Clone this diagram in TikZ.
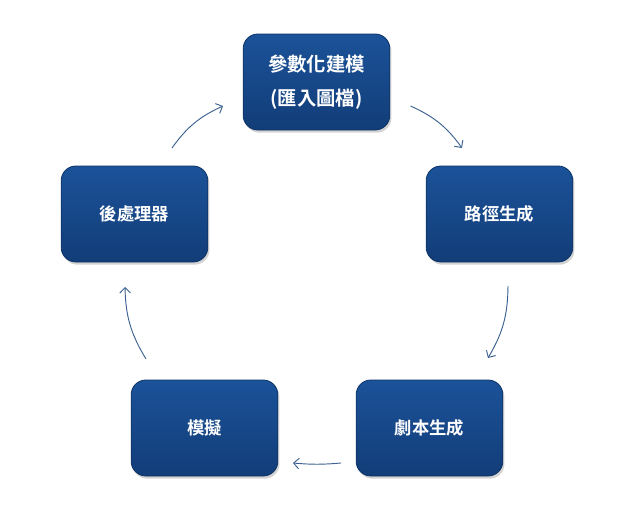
\documentclass[tikz,border=0pt]{standalone}
\usepackage{fontspec}
\newfontfamily\cjk[BoldFont=* Bold]{Noto Sans CJK TC}
\usetikzlibrary{arrows.meta,shadows}
\definecolor{boxtop}{HTML}{1B5299}
\definecolor{boxbot}{HTML}{123D78}
\definecolor{boxline}{HTML}{0E3366}
\definecolor{arrowblue}{HTML}{3B6190}
\tikzset{
  stagebox/.style={rounded corners=11pt, minimum width=110pt, minimum height=72pt,
    top color=boxtop, bottom color=boxbot, draw=boxline, line width=.6pt,
    text=white, align=center, font=\cjk\bfseries\fontsize{13}{17}\selectfont,
    drop shadow={shadow xshift=1.2pt, shadow yshift=-2pt, opacity=.35}},
  cyclearrow/.style={arrowblue, line width=.7pt, -{Straight Barb[length=4pt,width=8pt]}}
}
\begin{document}
\begin{tikzpicture}[x=0.75pt,y=-0.75pt]
	\useasboundingbox (0,0) rectangle (633,511);
	% stages
	\node[stagebox, font=\cjk\bfseries\fontsize{14.5}{25}\selectfont] (model) at (316.5,82) {參數化建模\\(匯入圖檔)};
	\node[stagebox] (path) at (499.5,214) {路徑生成};
	\node[stagebox] (script) at (429.5,428) {劇本生成};
	\node[stagebox] (sim) at (204.5,428) {模擬};
	\node[stagebox] (post) at (134.5,214) {後處理器};
	% arrow ends
	\coordinate (a1) at (410.5,106);  \coordinate (b1) at (462,148);
	\coordinate (a2) at (508,286);    \coordinate (b2) at (488,358);
	\coordinate (a3) at (341,463);    \coordinate (b3) at (293,463);
	\coordinate (a4) at (146,359);    \coordinate (b4) at (125,287);
	\coordinate (a5) at (172,148);    \coordinate (b5) at (223,106);
	\draw[cyclearrow] (a1) to[bend left=15] (b1);
	\draw[cyclearrow] (a2) to[bend left=15] (b2);
	\draw[cyclearrow] (a3) to[bend left=5] (b3);
	\draw[cyclearrow] (a4) to[bend left=15] (b4);
	\draw[cyclearrow] (a5) to[bend left=15] (b5);
\end{tikzpicture}
\end{document}
